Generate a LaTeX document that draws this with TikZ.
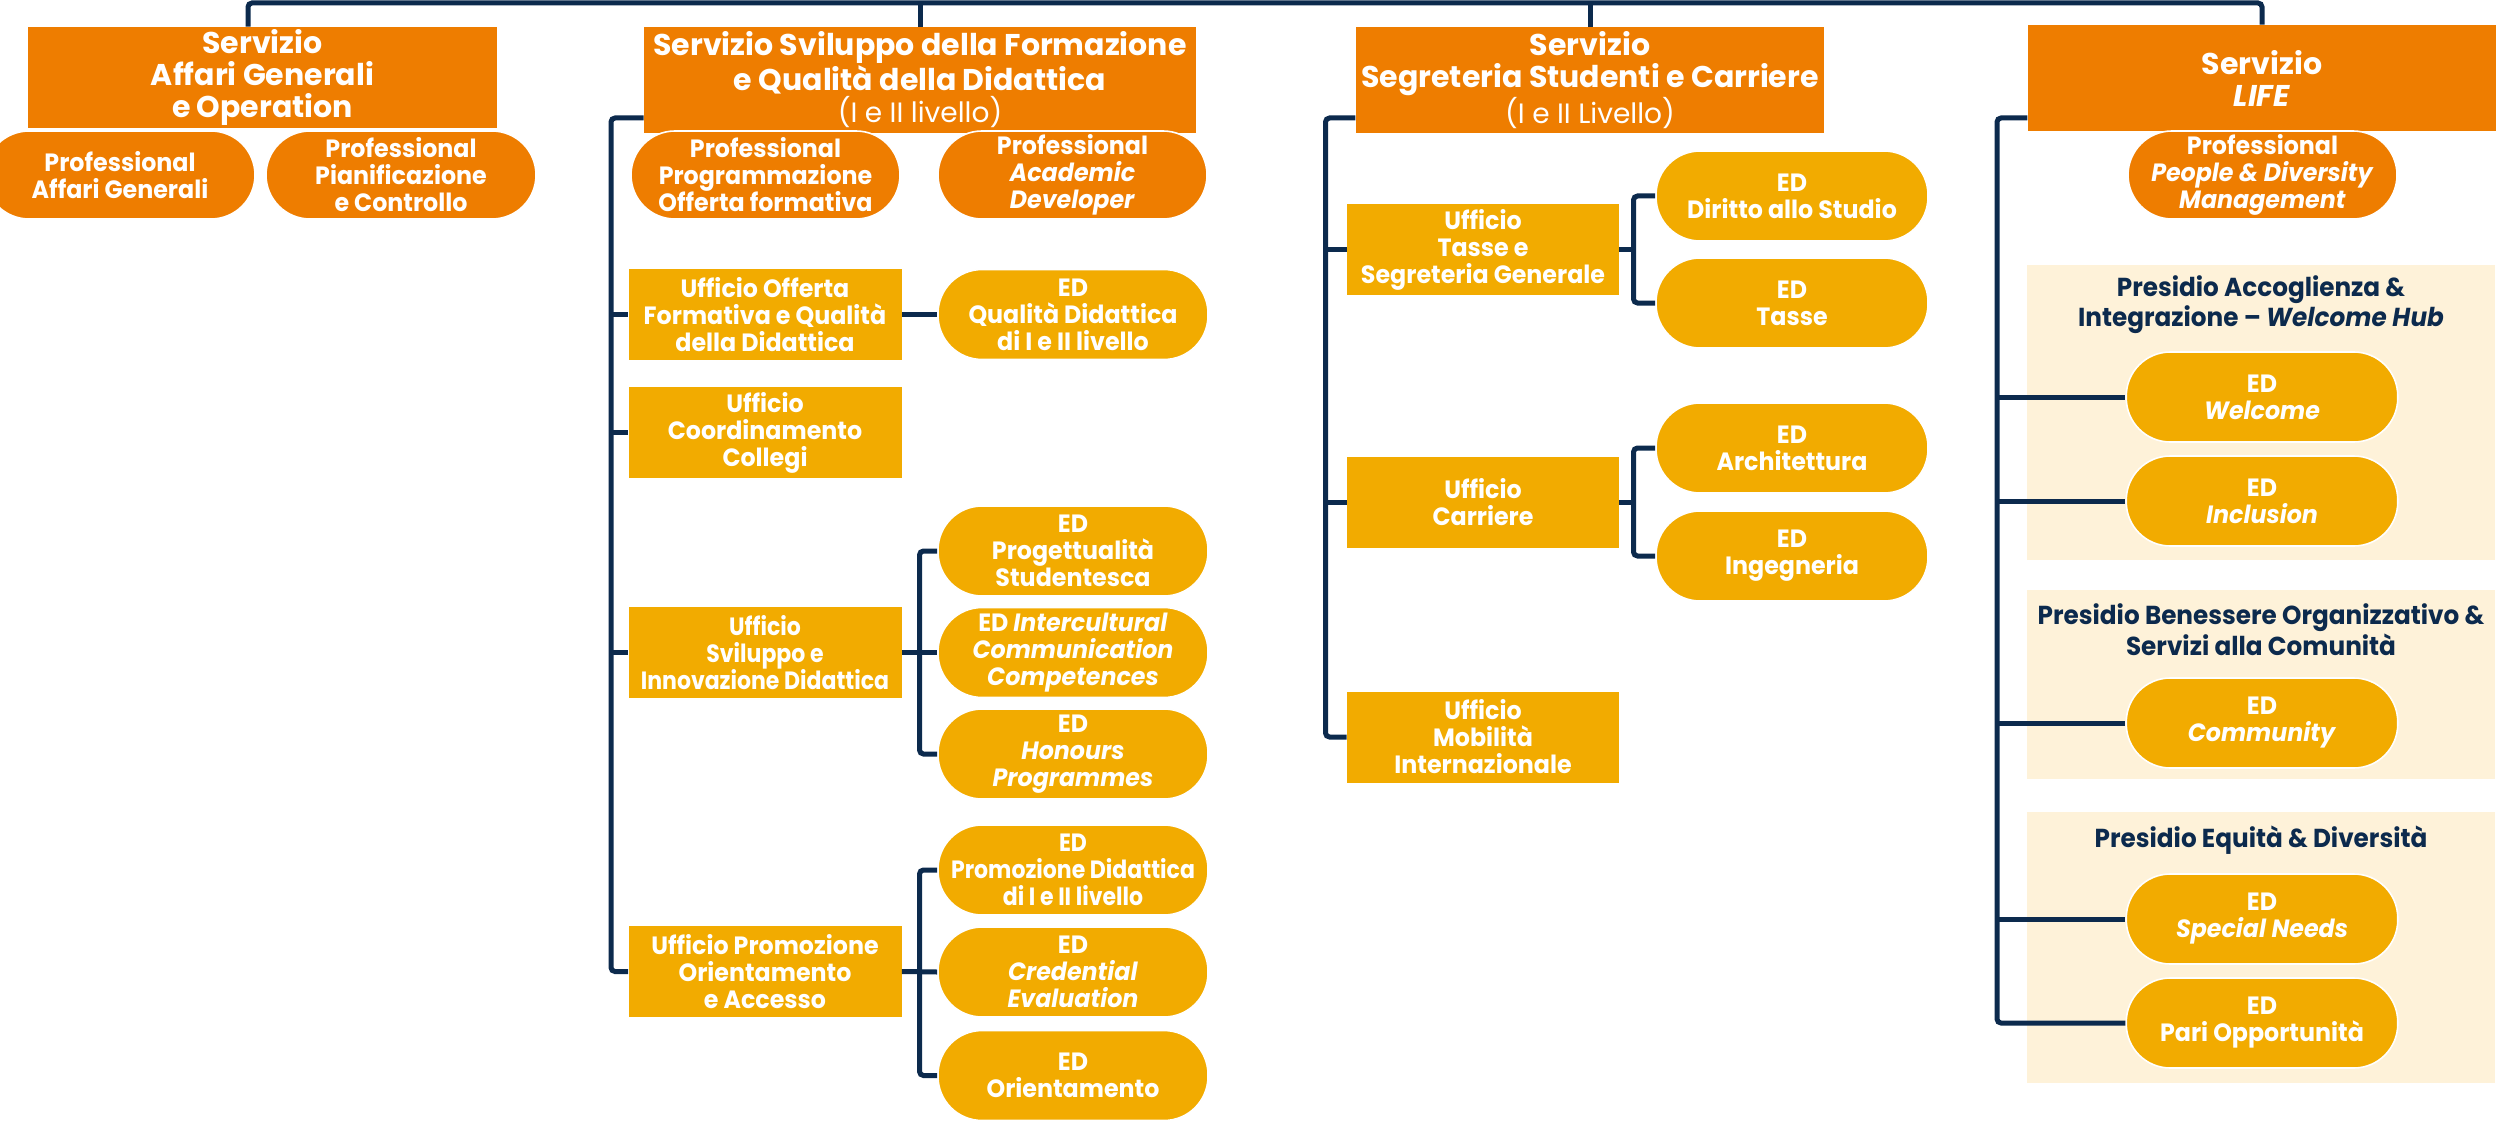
\documentclass[tikz,border=0pt]{standalone}
\usepackage{fontspec}
\setmainfont{Poppins}[FakeStretch=0.95]
\newfontfamily\hdfont{Poppins}
\newfontfamily\narrowfont{Poppins}[FakeStretch=0.88]
\definecolor{orgC}{HTML}{EE7D00}
\definecolor{goldC}{HTML}{F2AB00}
\definecolor{navyC}{HTML}{0C2A4D}
\definecolor{panelC}{HTML}{FEF2D9}
\begin{document}
\begin{tikzpicture}[x=0.5pt,y=-0.5pt,
  conn/.style={draw=navyC, line width=2.5pt, rounded corners=2pt},
  hdr/.style={fill=orgC, text=white, font=\hdfont\bfseries\fontsize{15}{16}\selectfont, align=center, inner sep=0pt, minimum height=53pt},
  prof/.style={fill=orgC, draw=white, line width=0.8pt, text=white, rounded corners=22pt, font=\bfseries\fontsize{12.5}{13.5}\selectfont, align=center, inner sep=0pt, minimum height=44pt, minimum width=134.5pt},
  uff/.style={fill=goldC, text=white, font=\bfseries\fontsize{12.5}{13.5}\selectfont, align=center, inner sep=0pt, minimum height=45.5pt, minimum width=136.5pt},
  edp/.style={fill=goldC, draw=white, line width=0.8pt, text=white, rounded corners=22pt, font=\bfseries\fontsize{12.5}{13.5}\selectfont, align=center, inner sep=0pt, minimum height=45pt, minimum width=135pt},
  panel/.style={fill=panelC, inner sep=0pt, minimum width=234.25pt},
  ptitle/.style={text=navyC, font=\bfseries\fontsize{13}{13.5}\selectfont, align=center, inner sep=0pt}
]
\clip (0,0) rectangle (2509,1123);
\fill[white] (0,0) rectangle (2509,1123);

% panels
\node[panel, minimum height=147.5pt] (P1) at (2261,412.5) {};
\node[panel, minimum height=94.5pt] (P2) at (2261,684.5) {};
\node[panel, minimum height=135.5pt] (P3) at (2261,947.5) {};
\node[ptitle] (t1) at (2261,305) {Presidio Accoglienza \&\\Integrazione -- \textit{Welcome Hub}};
\node[ptitle] (t2) at (2261,630) {Presidio Benessere Organizzativo \&\\Servizi alla Comunità};
\node[ptitle] (t3) at (2261,840) {Presidio Equità \& Diversità};

% headers
\node[hdr, minimum width=234.5pt, minimum height=50.5pt] (sAG) at (262.5,77.5) {Servizio\\Affari Generali\\e Operation};
\node[hdr, minimum width=276pt] (sSF) at (920,80) {Servizio Sviluppo della Formazione\\e Qualità della Didattica\\{\mdseries\fontsize{14}{16}\selectfont (I e II livello)}};
\node[hdr, minimum width=234.25pt] (sSS) at (1590,80) {Servizio\\Segreteria Studenti e Carriere\\{\mdseries\fontsize{14}{16}\selectfont (I e II Livello)}};
\node[hdr, minimum width=234.25pt] (sLIFE) at (2262,78) {Servizio\\\textit{LIFE}};

% professional pills
\node[prof, minimum width=135pt] (pAG) at (120,175) {Professional\\Affari Generali};
\node[prof, minimum width=135pt] (pPC) at (401,175) {Professional\\Pianificazione\\e Controllo};
\node[prof] (pPO) at (765.5,175) {Professional\\Programmazione\\Offerta formativa};
\node[prof] (pAD) at (1072.5,175) {Professional\\\textit{Academic}\\\textit{Developer}};
\node[prof] (pPD) at (2262.5,175) {Professional\\\textit{People \& Diversity}\\\textit{Management}};

% SF column
\node[uff] (uOF) at (765,314.5) {Ufficio Offerta\\Formativa e Qualità\\della Didattica};
\node[uff] (uCC) at (765,432.5) {Ufficio\\Coordinamento\\Collegi};
\node[uff, font=\narrowfont\bfseries\fontsize{12.5}{13.5}\selectfont] (uSI) at (765,652.5) {Ufficio\\Sviluppo e\\Innovazione Didattica};
\node[uff] (uPO) at (765,971.5) {Ufficio Promozione\\Orientamento\\e Accesso};
\node[edp] (eQD) at (1073,314.5) {ED\\Qualità Didattica\\di I e II livello};
\node[edp] (ePS) at (1073,551) {ED\\Progettualità\\Studentesca};
\node[edp] (eIC) at (1073,652.5) {ED \textit{Intercultural}\\\textit{Communication}\\\textit{Competences}};
\node[edp] (eHP) at (1073,754) {ED\\\textit{Honours}\\\textit{Programmes}};
\node[edp, font=\narrowfont\bfseries\fontsize{12.5}{13.5}\selectfont] (ePD) at (1073,870) {ED\\Promozione Didattica\\di I e II livello};
\node[edp] (eCE) at (1073,972) {ED\\\textit{Credential}\\\textit{Evaluation}};
\node[edp] (eOR) at (1073,1075.5) {ED\\Orientamento};

% SS column
\node[uff, minimum width=136pt] (uTS) at (1483,249.5) {Ufficio\\Tasse e\\Segreteria Generale};
\node[uff, minimum width=136pt] (uCA) at (1483,502.5) {Ufficio\\Carriere};
\node[uff, minimum width=136pt] (uMI) at (1483,737) {Ufficio\\Mobilità\\Internazionale};
\node[edp, minimum width=136pt] (eDS) at (1792,196) {ED\\Diritto allo Studio};
\node[edp, minimum width=136pt] (eTA) at (1792,303) {ED\\Tasse};
\node[edp, minimum width=136pt] (eAR) at (1792,448) {ED\\Architettura};
\node[edp, minimum width=136pt] (eIN) at (1792,556) {ED\\Ingegneria};

% LIFE column
\node[edp, minimum width=135.75pt] (eWE) at (2262,397) {ED\\\textit{Welcome}};
\node[edp, minimum width=135.75pt] (eIL) at (2262,501) {ED\\\textit{Inclusion}};
\node[edp, minimum width=135.75pt] (eCO) at (2262,723) {ED\\\textit{Community}};
\node[edp, minimum width=135.75pt] (eSN) at (2262,919) {ED\\\textit{Special Needs}};
\node[edp, minimum width=135.75pt] (ePO) at (2262,1023) {ED\\Pari Opportunità};

% bus coordinates
\coordinate (tl) at (248,3);
\coordinate (sfb) at (611,118);
\coordinate (sib) at (919.5,0);
\coordinate (ssb) at (1325.5,118);
\coordinate (tsb) at (1633.5,0);
\coordinate (lfb) at (1997,118);

% top bus
\draw[conn] (tl |- sAG.north) -- (tl) -| (sLIFE.north);
\draw[conn] (sSF.north) -- (sSF.north |- tl);
\draw[conn] (sSS.north) -- (sSS.north |- tl);

% SF connectors
\draw[conn] (sfb -| sSF.west) -- (sfb) |- (uPO.west);
\draw[conn] (sfb |- uOF.west) -- (uOF.west);
\draw[conn] (sfb |- uCC.west) -- (uCC.west);
\draw[conn] (sfb |- uSI.west) -- (uSI.west);
\draw[conn] (uOF.east) -- (eQD.west);
\draw[conn] (uSI.east) -- (eIC.west);
\draw[conn] (ePS.west) -- (ePS.west -| sib) |- (eHP.west);
\draw[conn] (uPO.east) -- (eCE.west);
\draw[conn] (ePD.west) -- (ePD.west -| sib) |- (eOR.west);

% SS connectors
\draw[conn] (ssb -| sSS.west) -- (ssb) |- (uMI.west);
\draw[conn] (ssb |- uTS.west) -- (uTS.west);
\draw[conn] (ssb |- uCA.west) -- (uCA.west);
\draw[conn] (uTS.east) -- (uTS.east -| tsb);
\draw[conn] (eDS.west) -- (eDS.west -| tsb) |- (eTA.west);
\draw[conn] (uCA.east) -- (uCA.east -| tsb);
\draw[conn] (eAR.west) -- (eAR.west -| tsb) |- (eIN.west);

% LIFE connectors
\draw[conn] (lfb -| sLIFE.west) -- (lfb) |- (ePO.west);
\draw[conn] (lfb |- eWE.west) -- (eWE.west);
\draw[conn] (lfb |- eIL.west) -- (eIL.west);
\draw[conn] (lfb |- eCO.west) -- (eCO.west);
\draw[conn] (lfb |- eSN.west) -- (eSN.west);
\end{tikzpicture}
\end{document}
